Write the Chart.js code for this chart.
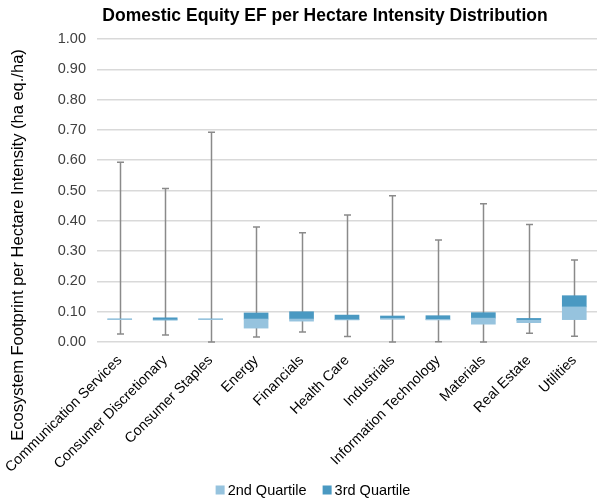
<!DOCTYPE html>
<html>
<head>
<meta charset="utf-8">
<script src="https://cdn.jsdelivr.net/npm/chart.js@4.4.1/dist/chart.umd.min.js"></script>
<style>
html,body{margin:0;padding:0;background:#fff;}
#wrap{width:599px;height:500px;position:relative;}
</style>
</head>
<body>
<div id="wrap"><canvas id="c"></canvas></div>
<script>
const categories = ["Communication Services","Consumer Discretionary","Consumer Staples","Energy","Financials","Health Care","Industrials","Information Technology","Materials","Real Estate","Utilities"];
const minVals = [0.027, 0.023, 0.000, 0.017, 0.033, 0.018, 0.000, 0.001, 0.000, 0.029, 0.019];
const q1Vals  = [0.074, 0.073, 0.074, 0.046, 0.069, 0.073, 0.075, 0.073, 0.059, 0.064, 0.074];
const medVals = [0.076, 0.073, 0.076, 0.076, 0.076, 0.074, 0.078, 0.075, 0.079, 0.072, 0.116];
const q3Vals  = [0.076, 0.080, 0.076, 0.096, 0.100, 0.089, 0.086, 0.087, 0.097, 0.078, 0.153];
const maxVals = [0.593, 0.507, 0.692, 0.380, 0.361, 0.419, 0.483, 0.337, 0.456, 0.388, 0.271];
const yTicks  = [0,0.1,0.2,0.3,0.4,0.5,0.6,0.7,0.8,0.9,1.0];
const seriesNames = ['2nd Quartile', '3rd Quartile'];
const seriesColors = ['#96c3de', '#4a99c2'];
const chartTitle = 'Domestic Equity EF per Hectare Intensity Distribution';
const yTitle = 'Ecosystem Footprint per Hectare Intensity (ha eq./ha)';

const FONT = "'Liberation Sans', Arial, sans-serif";

const whiskerPlugin = {
  id: 'whiskers',
  beforeDatasetsDraw(chart) {
    const ctx = chart.ctx, xs = chart.scales.x, ys = chart.scales.y;
    ctx.save();
    ctx.strokeStyle = '#8a8a8a';
    ctx.lineWidth = 1.5;
    for (let i = 0; i < categories.length; i++) {
      const x = Math.round(xs.getPixelForValue(i)) + 0.5;
      const yMin = ys.getPixelForValue(minVals[i]);
      const yMax = ys.getPixelForValue(maxVals[i]);
      ctx.beginPath();
      ctx.moveTo(x, yMin); ctx.lineTo(x, yMax);
      ctx.moveTo(x - 3.5, yMin); ctx.lineTo(x + 3.5, yMin);
      ctx.moveTo(x - 3.5, yMax); ctx.lineTo(x + 3.5, yMax);
      ctx.stroke();
    }
    ctx.restore();
  }
};

const textPlugin = {
  id: 'customText',
  afterDraw(chart) {
    const ctx = chart.ctx;
    ctx.save();
    // title
    ctx.font = "bold 17.5px " + FONT;
    ctx.fillStyle = '#000';
    ctx.textAlign = 'center';
    ctx.textBaseline = 'middle';
    ctx.fillText(chartTitle, 325, 16);
    // y axis title
    ctx.save();
    ctx.translate(18, 245);
    ctx.rotate(-Math.PI / 2);
    ctx.font = "16.5px " + FONT;
    ctx.fillText(yTitle, 0, 0);
    ctx.restore();
    // legend
    ctx.font = "14.5px " + FONT;
    const box = 9, gapBoxText = 3, gapItems = 16;
    const widths = seriesNames.map(n => ctx.measureText(n).width);
    const total = widths.reduce((a, w) => a + box + gapBoxText + w, 0) + gapItems * (seriesNames.length - 1);
    let x = 313 - total / 2;
    const y = 490;
    ctx.textAlign = 'left';
    seriesNames.forEach((n, i) => {
      ctx.fillStyle = seriesColors[i];
      ctx.fillRect(x, y - box / 2, box, box);
      x += box + gapBoxText;
      ctx.fillStyle = '#000';
      ctx.fillText(n, x, y + 1);
      x += widths[i] + gapItems;
    });
    ctx.restore();
  }
};

new Chart(document.getElementById('c'), {
  type: 'bar',
  data: {
    labels: categories,
    datasets: [
      {
        label: seriesNames[0],
        data: categories.map((c, i) => [q1Vals[i], medVals[i]]),
        backgroundColor: seriesColors[0],
        grouped: false,
        barThickness: 24,
        borderSkipped: false
      },
      {
        label: seriesNames[1],
        data: categories.map((c, i) => [medVals[i], q3Vals[i]]),
        backgroundColor: seriesColors[1],
        grouped: false,
        barThickness: 24,
        borderSkipped: false
      }
    ]
  },
  options: {
    responsive: true,
    maintainAspectRatio: false,
    animation: false,
    layout: { padding: { top: 39, right: 2, left: 0, bottom: 22 } },
    plugins: {
      title: { display: false },
      tooltip: { enabled: false },
      legend: { display: false }
    },
    scales: {
      x: {
        grid: { display: false },
        border: { display: false },
        ticks: {
          minRotation: 45,
          maxRotation: 45,
          autoSkip: false,
          font: { size: 14.3, family: FONT },
          color: '#000',
          padding: 2
        }
      },
      y: {
        min: 0,
        max: 1,
        afterBuildTicks(scale) { scale.ticks = yTicks.map(v => ({ value: v })); },
        afterFit(scale) { scale.width = 97; },
        grid: { color: '#d9d9d9', lineWidth: 1.5, drawTicks: false },
        border: { display: false },
        ticks: {
          font: { size: 14.5, family: FONT },
          color: '#404040',
          padding: 11,
          callback: v => Number(v).toFixed(2)
        },
        title: { display: false }
      }
    }
  },
  plugins: [whiskerPlugin, textPlugin]
});
</script>
</body>
</html>
